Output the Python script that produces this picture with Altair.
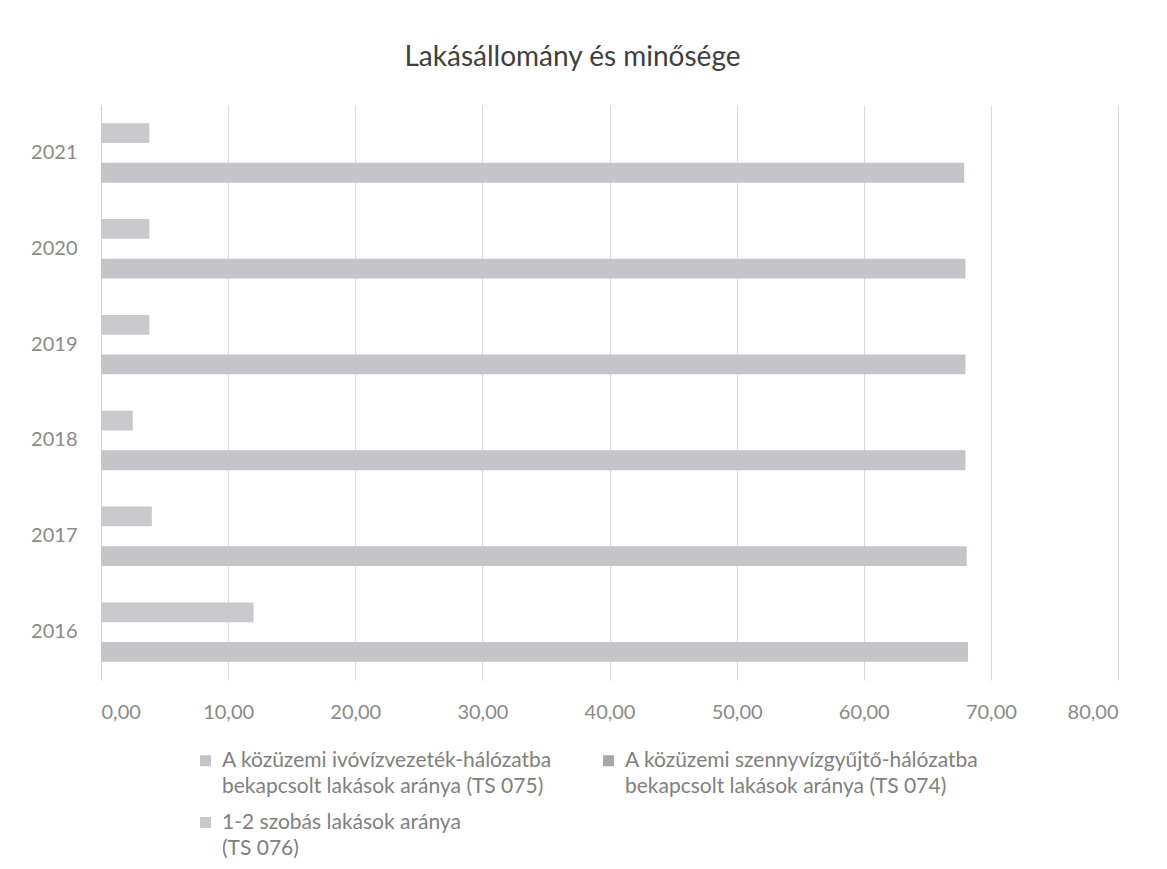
import altair as alt
import pandas as pd

# ---- data ----
years = ["2016", "2017", "2018", "2019", "2020", "2021"]
ts075 = [68.2, 68.1, 68.0, 68.0, 68.0, 67.9]   # ivóvízvezeték-hálózat
ts074 = [0.0, 0.0, 0.0, 0.0, 0.0, 0.0]         # szennyvízgyűjtő-hálózat (no visible bar)
ts076 = [12.0, 4.0, 2.5, 3.8, 3.8, 3.8]        # 1-2 szobás lakások
series_names = [
    "A közüzemi ivóvízvezeték-hálózatba|bekapcsolt lakások aránya (TS 075)",
    "A közüzemi szennyvízgyűjtő-hálózatba|bekapcsolt lakások aránya (TS 074)",
    "1-2 szobás lakások aránya|(TS 076)",
]
series_colors = ["#c4c5c9", "#a8a8ac", "#cacace"]
x_ticks = [0, 10, 20, 30, 40, 50, 60, 70, 80]
title_text = "Lakásállomány és minősége"

rows = []
for i, yr in enumerate(years):
    for name, vals in zip(series_names, [ts075, ts074, ts076]):
        rows.append({"year": yr, "series": name, "value": vals[i]})
df = pd.DataFrame(rows)

offset_order = [series_names[2], series_names[1], series_names[0]]

chart = alt.Chart(df).mark_bar().encode(
    x=alt.X(
        "value:Q",
        scale=alt.Scale(domain=[0, 80], nice=False),
        axis=alt.Axis(
            values=x_ticks,
            labelExpr="replace(format(datum.value, '.2f'), '.', ',')",
            title=None, grid=True, gridColor="#dadada", gridWidth=1,
            domain=False, ticks=False,
            labelFont="Lato", labelFontSize=20, labelColor="#8a8a8a",
            labelPadding=22,
        ),
    ),
    y=alt.Y(
        "year:N",
        sort=years[::-1],
        scale=alt.Scale(paddingInner=0.38, paddingOuter=0.19),
        axis=alt.Axis(
            title=None, ticks=False, grid=False,
            domain=True, domainColor="#d0d0d0",
            labelFont="Lato", labelFontSize=20, labelColor="#8a8a8a",
            labelPadding=24,
        ),
    ),
    yOffset=alt.YOffset(
        "series:N",
        sort=offset_order,
        scale=alt.Scale(domain=offset_order, paddingInner=0.0),
    ),
    color=alt.Color(
        "series:N",
        scale=alt.Scale(domain=series_names, range=series_colors),
        legend=alt.Legend(
            title=None, orient="none", legendX=94, legendY=634,
            direction="horizontal",
            columns=2, columnPadding=45, rowPadding=4,
            symbolType="M-1,1H1V3H-1Z", symbolSize=121, symbolStrokeWidth=0,
            labelFont="Lato", labelFontSize=21, labelColor="#808080",
            labelExpr="split(datum.label, '|')", labelBaseline="top",
            labelLimit=700, labelOffset=6,
        ),
    ),
).properties(
    width=1017,
    height=575,
    background="white",
    autosize=alt.AutoSizeParams(type="none"),
    padding={"left": 93, "top": 97, "right": 41, "bottom": 181},
    title=alt.TitleParams(
        text=title_text, font="Lato", fontSize=28, fontWeight="normal",
        color="#404040", anchor="middle", dx=-37, offset=5, baseline="bottom",
    ),
).configure(
    view=alt.ViewConfig(strokeWidth=0),
    style={"guide-label": {"lineHeight": 26}},
)

chart.save("out.html", embed_options={"renderer": "svg", "actions": False})
